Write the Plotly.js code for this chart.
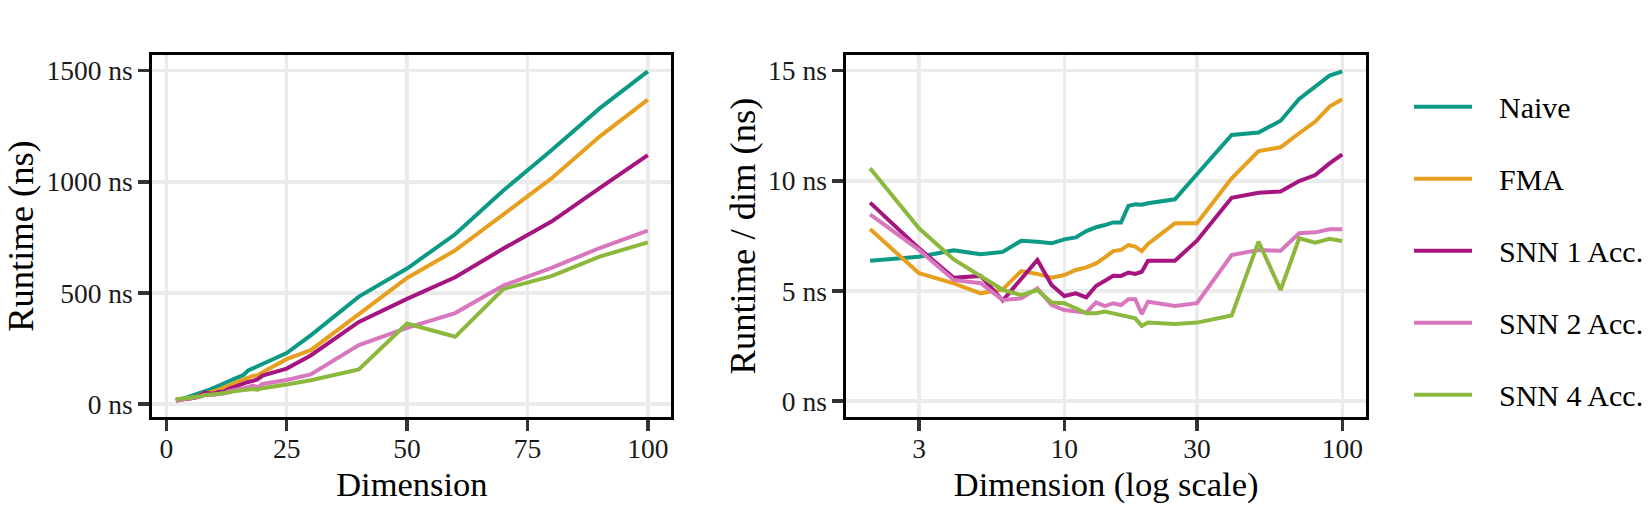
<!DOCTYPE html>
<html>
<head>
<meta charset="utf-8">
<script src="https://cdn.plot.ly/plotly-3.0.1.min.js"></script>
<style>
  html, body { margin: 0; padding: 0; background: #ffffff; }
  #chart { width: 1650px; height: 506px; }
</style>
</head>
<body>
<div id="chart"></div>
<script>
// Vector dimensions that were benchmarked
const dims = [2, 3, 4, 5, 6, 7, 8, 9, 10, 11, 12, 13, 14, 15, 16, 17, 18, 19, 20,
              25, 30, 40, 50, 60, 70, 80, 90, 100];

// Series names, in legend order
const seriesNames = ["Naive", "FMA", "SNN 1 Acc.", "SNN 2 Acc.", "SNN 4 Acc."];

// Runtime per dimension (ns) for each implementation
const naivePerDim = [6.37, 6.55, 6.84, 6.66, 6.77, 7.28, 7.23, 7.16, 7.34, 7.43, 7.72, 7.89, 7.99, 8.11,
                     8.11, 8.86, 8.93, 8.91, 8.98, 9.16, 10.30, 12.08, 12.19, 12.73, 13.72, 14.27, 14.78, 14.97];
const fmaPerDim = [7.81, 5.80, 5.34, 4.89, 5.07, 5.90, 5.77, 5.60, 5.72, 5.95, 6.07, 6.25, 6.52, 6.81,
                   6.86, 7.08, 7.01, 6.81, 7.13, 8.07, 8.07, 10.11, 11.35, 11.52, 12.16, 12.69, 13.37, 13.70];
const snn1PerDim = [9.01, 6.93, 5.60, 5.68, 4.56, 5.53, 6.40, 5.27, 4.77, 4.89, 4.71, 5.22, 5.49, 5.69,
                    5.68, 5.83, 5.77, 5.87, 6.37, 6.37, 7.28, 9.23, 9.46, 9.51, 9.99, 10.26, 10.79, 11.20];
const snn2PerDim = [8.48, 6.86, 5.50, 5.35, 4.59, 4.66, 5.12, 4.36, 4.13, 4.06, 4.01, 4.48, 4.31, 4.44,
                    4.36, 4.62, 4.62, 3.95, 4.51, 4.31, 4.44, 6.63, 6.86, 6.82, 7.62, 7.66, 7.80, 7.80];
const snn4PerDim = [10.57, 7.84, 6.43, 5.68, 5.05, 4.81, 5.04, 4.47, 4.44, 4.21, 3.98, 3.99, 4.06, 3.98,
                    3.91, 3.83, 3.75, 3.41, 3.56, 3.50, 3.56, 3.88, 7.24, 5.04, 7.39, 7.19, 7.37, 7.27];

const perDimSeries = [naivePerDim, fmaPerDim, snn1PerDim, snn2PerDim, snn4PerDim];
const seriesColors = ["#0B9A86", "#E69F1E", "#A6157F", "#D876BE", "#8BB83D"];

// Tick values and labels
const leftXTicks = [0, 25, 50, 75, 100];
const leftYTicks = [0, 500, 1000, 1500];
const rightXTicks = [3, 10, 30, 100];
const rightYTicks = [0, 5, 10, 15];

const FONT = "'Liberation Serif', 'Times New Roman', serif";
const traces = [];

seriesNames.forEach((name, i) => {
  const perDim = perDimSeries[i];
  // total runtime = runtime per dimension * dimension
  const total = perDim.map((v, k) => v * dims[k]);
  traces.push({
    x: dims, y: total, xaxis: "x", yaxis: "y",
    type: "scatter", mode: "lines", name: name,
    legendgroup: name, showlegend: true,
    line: { color: seriesColors[i], width: 4 }
  });
  traces.push({
    x: dims, y: perDim, xaxis: "x2", yaxis: "y2",
    type: "scatter", mode: "lines", name: name,
    legendgroup: name, showlegend: false,
    line: { color: seriesColors[i], width: 4 }
  });
});

const axisCommon = {
  showgrid: true, gridcolor: "#EBEBEB", gridwidth: 3.5,
  zeroline: false,
  showline: true, linecolor: "#000000", linewidth: 3, mirror: true,
  ticks: "outside", ticklen: 11, tickwidth: 3.5, tickcolor: "#333333",
  tickfont: { family: FONT, size: 27.5, color: "#1a1a1a" },
  fixedrange: true
};

const xTitleFont = { family: FONT, size: 34.5, color: "#000000" };
const yTitleFont = { family: FONT, size: 36.5, color: "#000000" };
const yDomain = [0.1755, 0.8915];

const layout = {
  width: 1650, height: 506,
  margin: { l: 0, r: 0, t: 0, b: 0, pad: 0 },
  paper_bgcolor: "#ffffff", plot_bgcolor: "#ffffff",
  font: { family: FONT, size: 30, color: "#000000" },
  showlegend: true,
  legend: {
    x: 1409 / 1650, xanchor: "left", y: 1 - 80.7 / 506, yanchor: "top",
    font: { family: FONT, size: 30, color: "#000000" },
    tracegroupgap: 30, itemwidth: 58,
    bgcolor: "rgba(0,0,0,0)", borderwidth: 0
  },
  xaxis: Object.assign({}, axisCommon, {
    domain: [0.0923, 0.4069], range: [-2.9, 104.9],
    tickvals: leftXTicks, ticktext: leftXTicks.map(String),
    ticklabelstandoff: -6,
    title: { text: "Dimension", font: xTitleFont, standoff: 9 },
    anchor: "y"
  }),
  yaxis: Object.assign({}, axisCommon, {
    domain: yDomain, range: [-59.4, 1571],
    tickvals: leftYTicks, ticktext: leftYTicks.map(v => v + " ns"),
    title: { text: "Runtime (ns)", font: yTitleFont, standoff: 2 },
    anchor: "x"
  }),
  xaxis2: Object.assign({}, axisCommon, {
    domain: [0.5130, 0.8278], type: "log", range: [0.2161, 2.085],
    tickvals: rightXTicks, ticktext: rightXTicks.map(String),
    ticklabelstandoff: -6,
    title: { text: "Dimension (log scale)", font: xTitleFont, standoff: 9 },
    anchor: "y2"
  }),
  yaxis2: Object.assign({}, axisCommon, {
    domain: yDomain, range: [-0.736, 15.718],
    tickvals: rightYTicks, ticktext: rightYTicks.map(v => v + " ns"),
    title: { text: "Runtime / dim (ns)", font: yTitleFont, standoff: 2 },
    anchor: "x2"
  })
};

Plotly.newPlot("chart", traces, layout, { staticPlot: true, displayModeBar: false })
  .then(gd => {
    // leave a wider gap between the legend line samples and their labels,
    // and let the labels run to the page edge instead of the legend box
    gd.querySelectorAll(".legend .legendtext").forEach(t => {
      const x = parseFloat(t.getAttribute("x")) || 0;
      t.setAttribute("x", x + 22);
    });
    gd.querySelectorAll(".legend .scrollbox").forEach(g => g.removeAttribute("clip-path"));
  });
</script>
</body>
</html>
